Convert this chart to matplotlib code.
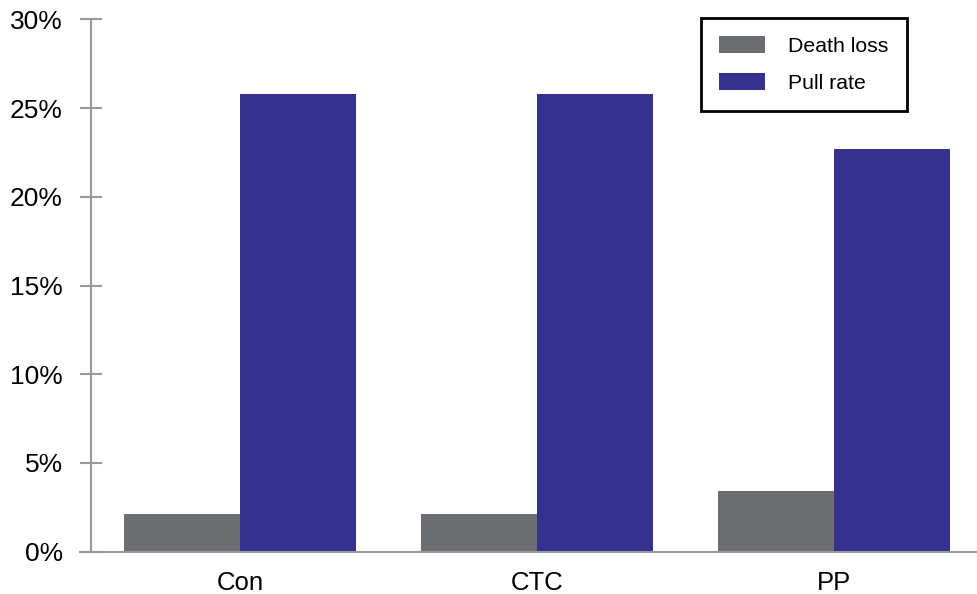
import matplotlib
matplotlib.use("Agg")
import matplotlib.pyplot as plt
import numpy as np

categories = ["Con", "CTC", "PP"]
death_loss = [2.1, 2.1, 3.4]
pull_rate = [25.8, 25.8, 22.7]
yticks = [0, 5, 10, 15, 20, 25, 30]
ytick_labels = ["0%", "5%", "10%", "15%", "20%", "25%", "30%"]

plt.rcParams['font.family'] = ['Liberation Sans', 'DejaVu Sans']

fig = plt.figure(figsize=(9.77, 5.94), dpi=100)
ax = fig.add_axes([91/977, (594-551.7)/594, 1 - 91/977, (551.7-19.3)/594])

x = np.arange(len(categories))
w = 0.39
ax.bar(x - w/2, death_loss, w, color="#6d6e71", label="Death loss")
ax.bar(x + w/2, pull_rate, w, color="#34318f", label="Pull rate")

ax.set_xlim(-0.502, 2.481)
ax.set_ylim(0, 30)
ax.set_yticks(yticks)
ax.set_yticklabels(ytick_labels)
ax.set_xticks(x)
ax.set_xticklabels(categories)

for s in ["top", "right"]:
    ax.spines[s].set_visible(False)
for s in ["left", "bottom"]:
    ax.spines[s].set_color("#999999")
    ax.spines[s].set_linewidth(1.5)
ax.spines["bottom"].set_bounds(-0.502 - (91-80)/297, 2.481)
ax.spines["bottom"].set_clip_on(False)

ax.tick_params(axis='y', direction='inout', length=16.5, width=1.5, color="#999999",
               labelsize=19, pad=12)
ax.tick_params(axis='x', length=0, labelsize=18.5, pad=14)

leg = ax.legend(loc="upper left", bbox_to_anchor=(701/977, 1 - 18/594),
                bbox_transform=fig.transFigure, fontsize=15.3, frameon=True,
                fancybox=False, edgecolor="black", framealpha=1,
                handlelength=2.15, handleheight=0.85,
                handletextpad=1.1, borderpad=0.85, labelspacing=0.8, borderaxespad=0)
leg.get_frame().set_linewidth(2)

fig.savefig("out.png", dpi=100)
